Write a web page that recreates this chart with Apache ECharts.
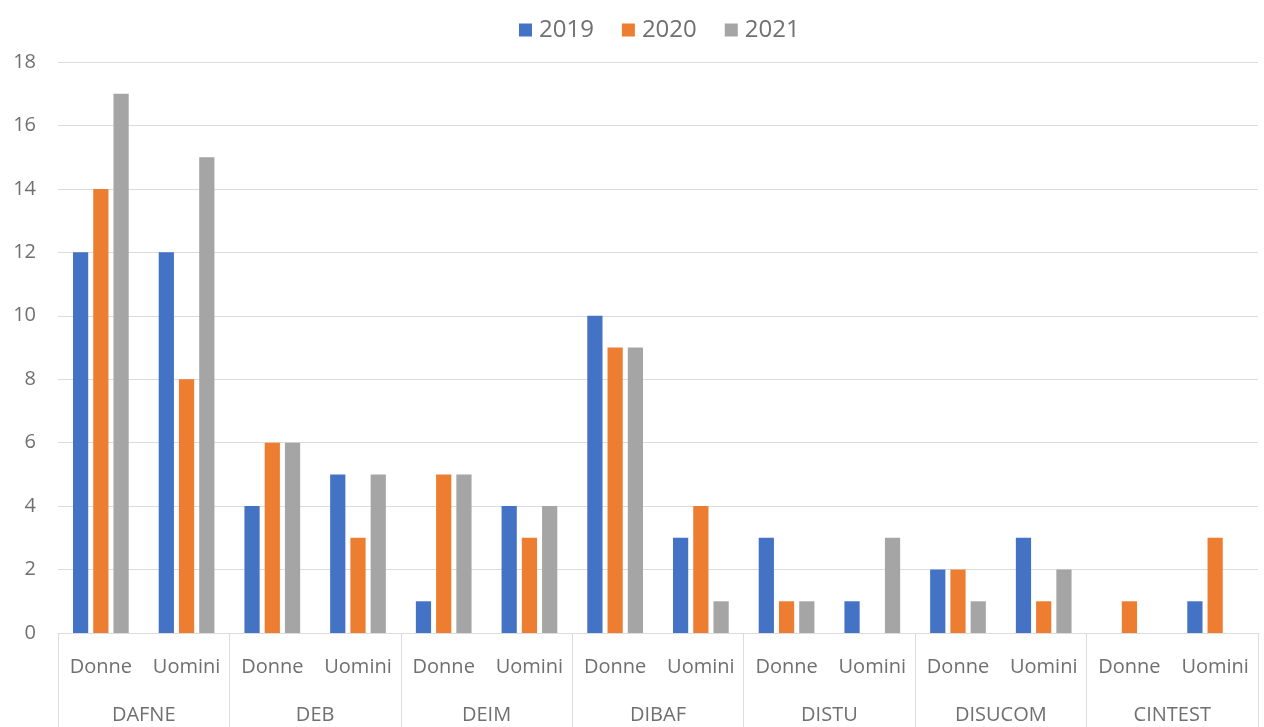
<!DOCTYPE html>
<html>
<head>
<meta charset="utf-8">
<script src="https://cdn.jsdelivr.net/npm/echarts@6/dist/echarts.min.js"></script>
<style>
  html, body { margin: 0; padding: 0; background: #ffffff; }
  #chart { width: 1264px; height: 727px; }
</style>
</head>
<body>
<div id="chart"></div>
<script>
// Departments (outer axis) and gender sub-categories (inner axis)
const departments = ['DAFNE', 'DEB', 'DEIM', 'DIBAF', 'DISTU', 'DISUCOM', 'CINTEST'];
const genders = ['Donne', 'Uomini'];
const years = ['2019', '2020', '2021'];

// Values per year, ordered Donne/Uomini for each department
const values2019 = [12, 12, 4, 5, 1, 4, 10, 3, 3, 1, 2, 3, 0, 1];
const values2020 = [14, 8, 6, 3, 5, 3, 9, 4, 1, 0, 2, 1, 1, 3];
const values2021 = [17, 15, 6, 5, 5, 4, 9, 1, 1, 3, 1, 2, 0, 0];

const yTicks = { min: 0, max: 18, interval: 2 };

const colors = ['#4472C4', '#ED7D31', '#A5A5A5'];
const textColor = '#707070';
const lineColor = '#dcdcdc';
const font = 'Open Sans';

// Inner category list: one slot per department/gender pair
const innerCats = [];
departments.forEach(() => genders.forEach(g => innerCats.push(g)));

const chart = echarts.init(document.getElementById('chart'));
chart.setOption({
  animation: false,
  color: colors,
  textStyle: { fontFamily: font },
  legend: {
    top: 13,
    left: 514,
    icon: 'rect',
    itemWidth: 13,
    itemHeight: 13,
    itemGap: 28,
    textStyle: { color: textColor, fontSize: 24, fontFamily: font, padding: [0, 0, 0, 2] },
    data: years
  },
  grid: { left: 58, right: 6, top: 62, bottom: 94 },
  xAxis: [
    {
      type: 'category',
      data: innerCats,
      axisLine: { show: true, lineStyle: { color: lineColor, width: 1 } },
      axisTick: { show: false },
      axisLabel: { color: textColor, fontSize: 20, margin: 24, fontFamily: font, interval: 0 }
    },
    {
      type: 'category',
      data: departments,
      position: 'bottom',
      axisLine: { show: false },
      axisTick: { show: true, length: 100, lineStyle: { color: lineColor, width: 1 } },
      axisLabel: { color: textColor, fontSize: 20, margin: 72, fontFamily: font, interval: 0 }
    }
  ],
  yAxis: {
    type: 'value',
    min: yTicks.min,
    max: yTicks.max,
    interval: yTicks.interval,
    axisLine: { show: false },
    axisTick: { show: false },
    axisLabel: { color: textColor, fontSize: 20, margin: 22, fontFamily: font },
    splitLine: { lineStyle: { color: lineColor, width: 1 } }
  },
  series: [
    { name: years[0], type: 'bar', xAxisIndex: 0, data: values2019, barGap: '33%', barCategoryGap: '35%' },
    { name: years[1], type: 'bar', xAxisIndex: 0, data: values2020, barGap: '33%', barCategoryGap: '35%' },
    { name: years[2], type: 'bar', xAxisIndex: 0, data: values2021, barGap: '33%', barCategoryGap: '35%' }
  ]
});
</script>
</body>
</html>
